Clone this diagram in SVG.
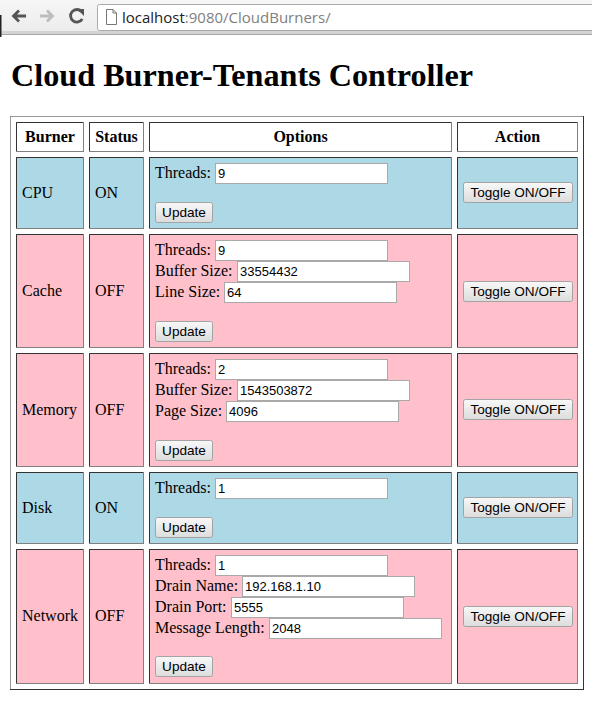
<svg xmlns="http://www.w3.org/2000/svg" width="592" height="702" viewBox="0 0 592 702">
<defs>
<linearGradient id="btn" x1="0" y1="0" x2="0" y2="1">
<stop offset="0" stop-color="#f8f8f8"/>
<stop offset="1" stop-color="#dcdcdc"/>
</linearGradient>
<linearGradient id="bar" x1="0" y1="0" x2="0" y2="1">
<stop offset="0" stop-color="#f6f6f6"/>
<stop offset="1" stop-color="#ececec"/>
</linearGradient>
</defs>
<style>
.serif{font-family:"Liberation Serif","Times New Roman",serif;font-size:16px;fill:#000}
.hdr{font-weight:bold;text-anchor:middle}
.sans{font-family:"Liberation Sans",Arial,sans-serif;font-size:13px;fill:#000}
.bt{font-size:13.6px}
.mid{text-anchor:middle}
.blue{fill:#add8e6}
.pink{fill:#ffc0cb}
.white{fill:#fff}
.cell{stroke:#808080;stroke-width:1}
.dk{fill:none;stroke:#333;stroke-width:1}
.inp{fill:#fff;stroke:#a9a9a9;stroke-width:1}
.btn{fill:url(#btn);stroke:#a3a3a3;stroke-width:1}
</style>
<rect width="592" height="702" fill="#fff"/>
<g id="browser-chrome">
<rect x="0" y="0" width="592" height="33" fill="url(#bar)"/>
<rect x="0" y="31" width="592" height="3" fill="#d4d4d4"/>
<line x1="0" y1="34.5" x2="592" y2="34.5" stroke="#a8a8a8"/>
<rect x="0" y="15" width="1.5" height="22" fill="#222"/>
<rect x="97.5" y="4.5" width="500" height="26" rx="2" fill="#fff" stroke="#aaa"/>
<path d="M26 16 H14 M19 10.5 L13.5 16 L19 21.5" fill="none" stroke="#555" stroke-width="2.8"/>
<path d="M40 16 H52 M47 10.5 L52.5 16 L47 21.5" fill="none" stroke="#bdbdbd" stroke-width="2.8"/>
<path d="M81.5 11.5 A6.3 6.3 0 1 0 82.3 19" fill="none" stroke="#555" stroke-width="2.8"/>
<path d="M77 9 L84 9 L84 16 Z" fill="#555"/>
<path d="M106.5 9.5 H113 L116.5 13 V24.5 H106.5 Z M113 9.5 V13 H116.5" fill="#fff" stroke="#777" stroke-width="1"/>
<text x="122" y="23" font-family="'Open Sans','Noto Sans',sans-serif" font-size="15" fill="#222">localhost<tspan fill="#808080">:9080/CloudBurners/</tspan></text>
</g>
<text x="11" y="86" font-family="'Liberation Serif','Times New Roman',serif" font-size="32" font-weight="bold" fill="#000" textLength="462" lengthAdjust="spacingAndGlyphs">Cloud Burner-Tenants Controller</text>
<g id="table">
<rect x="10.5" y="116.5" width="573" height="573" fill="none" stroke="#333"/>
<path d="M10.5 689 V116.5 H583" fill="none" stroke="#999"/>
</g>
<g id="header">
<g id="h-burner"><rect class="white cell" x="16.5" y="122.5" width="67" height="29"/><path class="dk" d="M16.5 151 V122.5 H83"/><text class="serif hdr" x="50" y="142">Burner</text></g>
<g id="h-status"><rect class="white cell" x="89.5" y="122.5" width="54" height="29"/><path class="dk" d="M89.5 151 V122.5 H143"/><text class="serif hdr" x="116.5" y="142">Status</text></g>
<g id="h-options"><rect class="white cell" x="149.5" y="122.5" width="302" height="29"/><path class="dk" d="M149.5 151 V122.5 H451"/><text class="serif hdr" x="300.5" y="142">Options</text></g>
<g id="h-action"><rect class="white cell" x="457.5" y="122.5" width="120" height="29"/><path class="dk" d="M457.5 151 V122.5 H577"/><text class="serif hdr" x="517.5" y="142">Action</text></g>
</g>

<g id="row-cpu">
<rect class="blue cell" x="16.5" y="157.5" width="67" height="71"/><path class="dk" d="M16.5 228 V157.5 H83"/>
<text class="serif" x="22" y="198">CPU</text>
<rect class="blue cell" x="89.5" y="157.5" width="54" height="71"/><path class="dk" d="M89.5 228 V157.5 H143"/>
<text class="serif" x="95" y="198">ON</text>
<rect class="blue cell" x="149.5" y="157.5" width="302" height="71"/><path class="dk" d="M149.5 228 V157.5 H451"/>
<text class="serif" x="155" y="178">Threads:</text>
<rect class="inp" x="215.5" y="163.5" width="172" height="20"/><text class="sans" x="218" y="178">9</text>
<rect class="btn" x="155.5" y="202.5" width="57" height="20" rx="2"/><text class="sans bt mid" x="184" y="217">Update</text>
<rect class="blue cell" x="457.5" y="157.5" width="120" height="71"/><path class="dk" d="M457.5 228 V157.5 H577"/>
<rect class="btn" x="463.5" y="182.5" width="109" height="20" rx="2"/><text class="sans bt mid" x="518" y="197">Toggle ON/OFF</text>
</g>

<g id="row-cache">
<rect class="pink cell" x="16.5" y="234.5" width="67" height="113"/><path class="dk" d="M16.5 347 V234.5 H83"/>
<text class="serif" x="22" y="296">Cache</text>
<rect class="pink cell" x="89.5" y="234.5" width="54" height="113"/><path class="dk" d="M89.5 347 V234.5 H143"/>
<text class="serif" x="95" y="296">OFF</text>
<rect class="pink cell" x="149.5" y="234.5" width="302" height="113"/><path class="dk" d="M149.5 347 V234.5 H451"/>
<text class="serif" x="155" y="255">Threads:</text>
<rect class="inp" x="215.5" y="240.5" width="172" height="20"/><text class="sans" x="218" y="255">9</text>
<text class="serif" x="155" y="276">Buffer Size:</text>
<rect class="inp" x="237.5" y="261.5" width="172" height="20"/><text class="sans" x="240" y="276">33554432</text>
<text class="serif" x="155" y="297">Line Size:</text>
<rect class="inp" x="224.5" y="282.5" width="172" height="20"/><text class="sans" x="227" y="297">64</text>
<rect class="btn" x="155.5" y="321.5" width="57" height="20" rx="2"/><text class="sans bt mid" x="184" y="336">Update</text>
<rect class="pink cell" x="457.5" y="234.5" width="120" height="113"/><path class="dk" d="M457.5 347 V234.5 H577"/>
<rect class="btn" x="463.5" y="281.5" width="109" height="20" rx="2"/><text class="sans bt mid" x="518" y="296">Toggle ON/OFF</text>
</g>

<g id="row-memory">
<rect class="pink cell" x="16.5" y="353.5" width="67" height="113"/><path class="dk" d="M16.5 466 V353.5 H83"/>
<text class="serif" x="22" y="415">Memory</text>
<rect class="pink cell" x="89.5" y="353.5" width="54" height="113"/><path class="dk" d="M89.5 466 V353.5 H143"/>
<text class="serif" x="95" y="415">OFF</text>
<rect class="pink cell" x="149.5" y="353.5" width="302" height="113"/><path class="dk" d="M149.5 466 V353.5 H451"/>
<text class="serif" x="155" y="374">Threads:</text>
<rect class="inp" x="215.5" y="359.5" width="172" height="20"/><text class="sans" x="218" y="374">2</text>
<text class="serif" x="155" y="395">Buffer Size:</text>
<rect class="inp" x="237.5" y="380.5" width="172" height="20"/><text class="sans" x="240" y="395">1543503872</text>
<text class="serif" x="155" y="416">Page Size:</text>
<rect class="inp" x="226.5" y="401.5" width="172" height="20"/><text class="sans" x="229" y="416">4096</text>
<rect class="btn" x="155.5" y="440.5" width="57" height="20" rx="2"/><text class="sans bt mid" x="184" y="455">Update</text>
<rect class="pink cell" x="457.5" y="353.5" width="120" height="113"/><path class="dk" d="M457.5 466 V353.5 H577"/>
<rect class="btn" x="463.5" y="399.5" width="109" height="20" rx="2"/><text class="sans bt mid" x="518" y="414">Toggle ON/OFF</text>
</g>

<g id="row-disk">
<rect class="blue cell" x="16.5" y="472.5" width="67" height="71"/><path class="dk" d="M16.5 543 V472.5 H83"/>
<text class="serif" x="22" y="513">Disk</text>
<rect class="blue cell" x="89.5" y="472.5" width="54" height="71"/><path class="dk" d="M89.5 543 V472.5 H143"/>
<text class="serif" x="95" y="513">ON</text>
<rect class="blue cell" x="149.5" y="472.5" width="302" height="71"/><path class="dk" d="M149.5 543 V472.5 H451"/>
<text class="serif" x="155" y="493">Threads:</text>
<rect class="inp" x="215.5" y="478.5" width="172" height="20"/><text class="sans" x="218" y="493">1</text>
<rect class="btn" x="155.5" y="517.5" width="57" height="20" rx="2"/><text class="sans bt mid" x="184" y="532">Update</text>
<rect class="blue cell" x="457.5" y="472.5" width="120" height="71"/><path class="dk" d="M457.5 543 V472.5 H577"/>
<rect class="btn" x="463.5" y="497.5" width="109" height="20" rx="2"/><text class="sans bt mid" x="518" y="512">Toggle ON/OFF</text>
</g>

<g id="row-network">
<rect class="pink cell" x="16.5" y="549.5" width="67" height="134"/><path class="dk" d="M16.5 683 V549.5 H83"/>
<text class="serif" x="22" y="621">Network</text>
<rect class="pink cell" x="89.5" y="549.5" width="54" height="134"/><path class="dk" d="M89.5 683 V549.5 H143"/>
<text class="serif" x="95" y="621">OFF</text>
<rect class="pink cell" x="149.5" y="549.5" width="302" height="134"/><path class="dk" d="M149.5 683 V549.5 H451"/>
<text class="serif" x="155" y="570">Threads:</text>
<rect class="inp" x="215.5" y="555.5" width="172" height="20"/><text class="sans" x="218" y="570">1</text>
<text class="serif" x="155" y="591">Drain Name:</text>
<rect class="inp" x="242.5" y="576.5" width="172" height="20"/><text class="sans" x="245" y="591">192.168.1.10</text>
<text class="serif" x="155" y="612">Drain Port:</text>
<rect class="inp" x="231.5" y="597.5" width="172" height="20"/><text class="sans" x="234" y="612">5555</text>
<text class="serif" x="155" y="633">Message Length:</text>
<rect class="inp" x="269.5" y="618.5" width="172" height="20"/><text class="sans" x="272" y="633">2048</text>
<rect class="btn" x="155.5" y="656.5" width="57" height="20" rx="2"/><text class="sans bt mid" x="184" y="671">Update</text>
<rect class="pink cell" x="457.5" y="549.5" width="120" height="134"/><path class="dk" d="M457.5 683 V549.5 H577"/>
<rect class="btn" x="463.5" y="606.5" width="109" height="20" rx="2"/><text class="sans bt mid" x="518" y="621">Toggle ON/OFF</text>
</g>
</svg>
